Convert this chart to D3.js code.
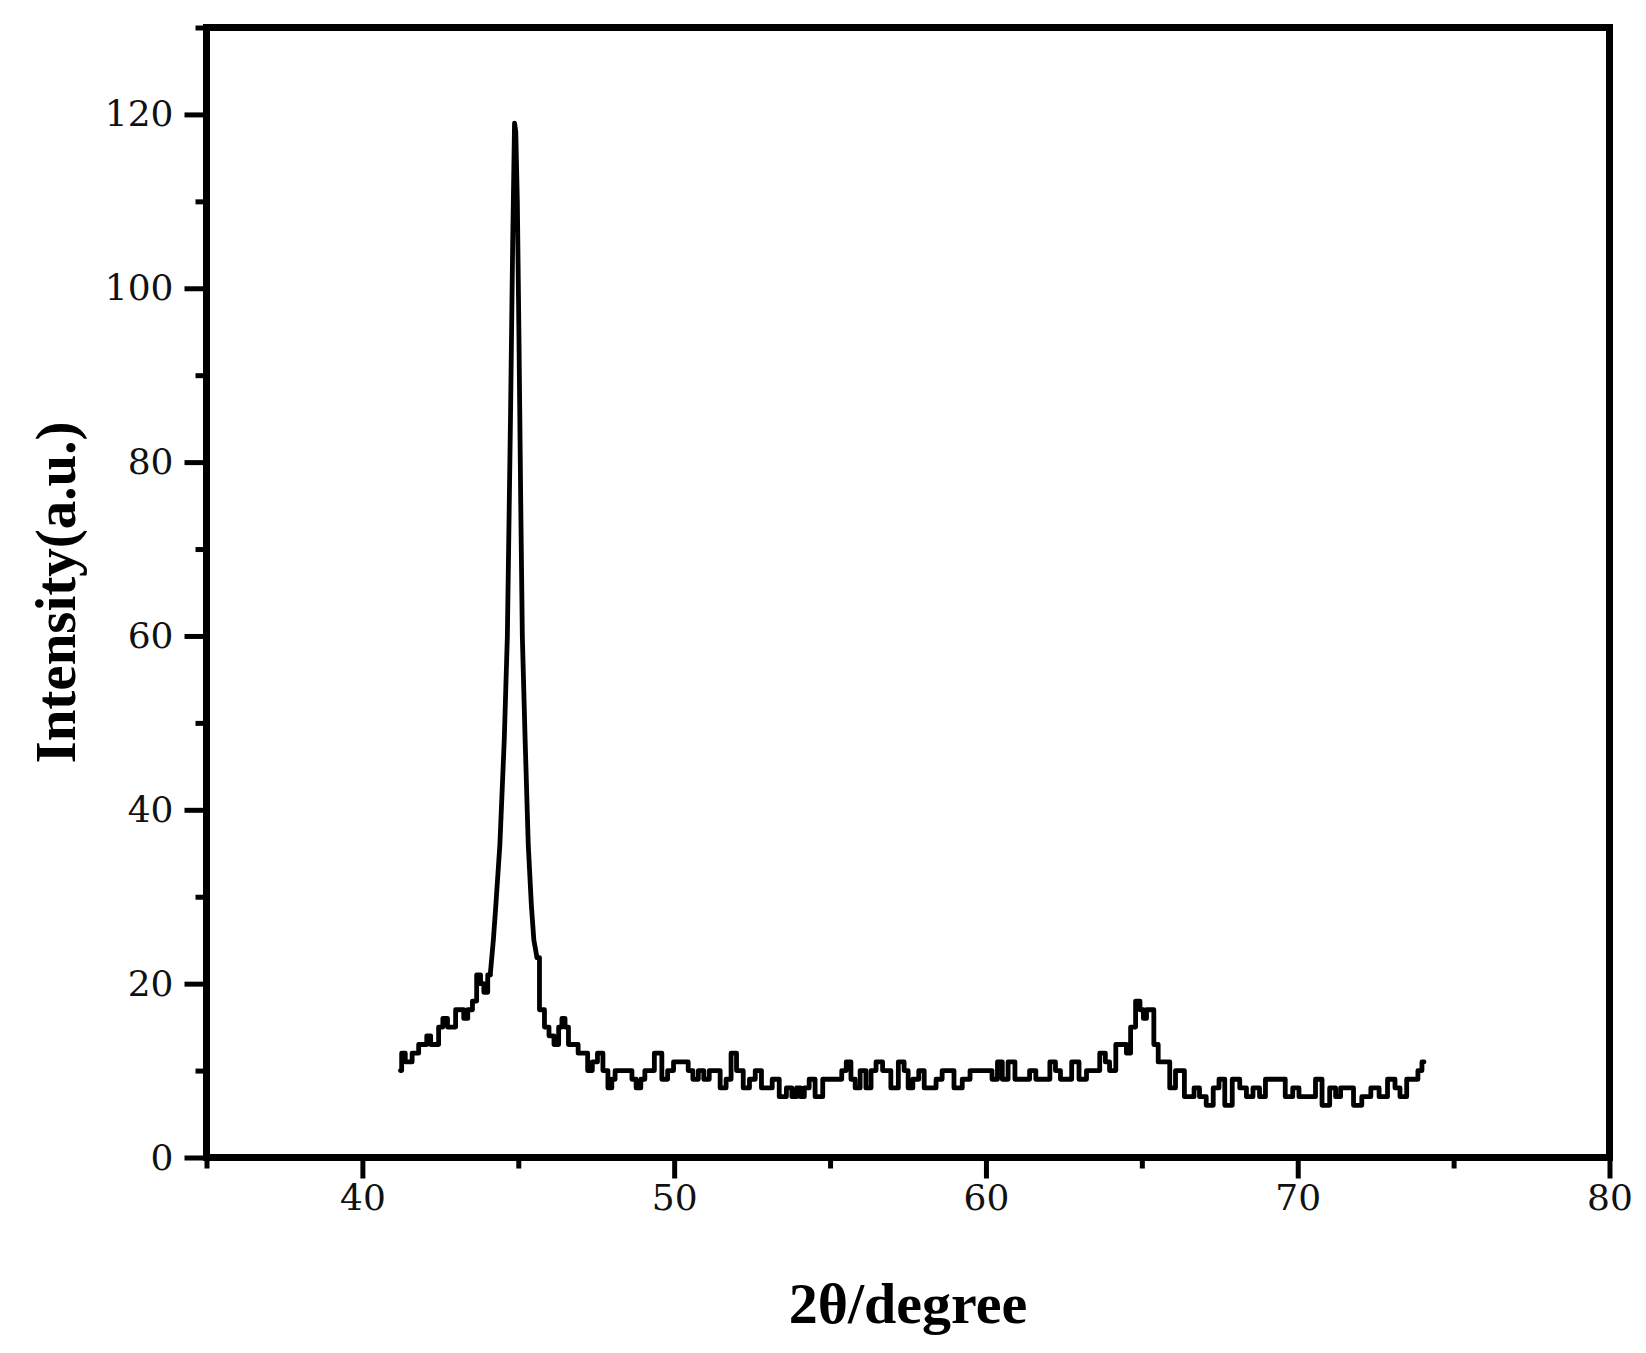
<!DOCTYPE html>
<html>
<head>
<meta charset="utf-8">
<script src="https://cdn.jsdelivr.net/npm/d3@7/dist/d3.min.js"></script>
<style>
  html, body { margin: 0; padding: 0; background: #fff; }
  svg { display: block; }
</style>
</head>
<body>
<svg id="chart" width="1646" height="1353"></svg>
<script>
// ---- data ----
const twoTheta = [
  41.22,41.30,41.45,41.54,41.65,41.75,41.86,42.00,42.13,42.25,42.39,42.50,42.66,42.80,42.93,43.05,43.20,43.30,43.46,43.60,
  43.73,43.85,43.94,44.10,44.20,44.28,44.41,44.55,44.65,44.75,44.82,44.88,44.92,44.97,45.02,45.08,45.13,45.22,45.32,45.42,
  45.50,45.60,45.76,45.92,46.05,46.24,46.35,46.45,46.55,46.67,46.80,47.04,47.15,47.30,47.45,47.63,47.80,47.95,48.05,48.16,
  48.35,48.59,48.70,48.86,49.00,49.12,49.23,49.50,49.71,49.87,50.09,50.25,50.40,50.50,50.70,50.85,51.05,51.20,51.37,51.58,
  51.75,51.90,52.10,52.33,52.50,52.70,52.90,53.05,53.24,53.50,53.70,53.85,54.00,54.10,54.25,54.41,54.63,54.90,55.10,55.30,
  55.45,55.59,55.75,55.86,56.07,56.23,56.40,56.55,56.82,57.08,57.30,57.45,57.56,57.75,57.94,58.10,58.30,58.50,58.69,58.85,
  59.10,59.38,59.60,59.85,60.10,60.29,60.45,60.60,60.82,61.04,61.30,61.50,61.70,61.94,62.16,62.30,62.48,62.65,62.85,63.12,
  63.33,63.54,63.76,63.90,64.03,64.30,64.45,64.56,64.72,64.88,65.00,65.10,65.20,65.30,65.47,65.58,65.79,66.00,66.16,66.30,
  66.43,66.60,66.75,66.95,67.18,67.40,67.55,67.77,68.03,68.25,68.46,68.67,68.88,69.05,69.31,69.50,69.70,69.98,70.10,70.30,
  70.50,70.64,70.92,71.13,71.30,71.45,71.66,71.92,72.19,72.50,72.72,73.04,73.20,73.36,73.63,73.79,73.92,74.05
];
const intensity = [
  10,12,11,11,12,12,13,13,14,13,13,15,16,15,15,17,17,16,17,18,
  21,20,19,21,25,29,36,48,60,85,105,119,118,110,95,75,60,48,36,29,
  25,23,17,15,14,13,15,16,15,13,13,12,12,10,11,12,10,8,9,10,
  10,10,9,8,9,10,10,12,9,10,11,11,11,10,9,10,9,10,10,8,
  9,12,10,8,9,10,8,8,9,7,8,7,8,7,8,9,7,9,9,9,
  10,11,9,8,10,8,10,11,10,8,11,10,8,9,10,8,8,9,10,10,
  8,9,10,10,10,9,11,9,11,9,9,10,9,9,11,10,9,9,11,9,
  10,10,12,11,10,13,13,12,15,18,17,16,17,17,13,11,11,8,10,10,
  7,7,8,7,6,8,9,6,9,8,7,8,7,9,9,9,7,8,7,7,
  7,9,6,8,7,8,8,6,7,8,7,9,8,7,9,9,10,11
];
// 2θ range of the main reflection (drawn as a smooth line, the rest as counting steps)
const peakRange = [44.10, 45.60];
const xMajorTicks = [40, 50, 60, 70, 80];
const xMinorTicks = [35, 45, 55, 65, 75];
const yMajorTicks = [0, 20, 40, 60, 80, 100, 120];
const yMinorTicks = [10, 30, 50, 70, 90, 110, 130];
const xDomain = [35, 80];
const yDomain = [0, 130];
const xTitle = "2θ/degree";
const yTitle = "Intensity(a.u.)";

// ---- layout ----
const L = 206.5, R = 1609.5, T = 27.5, B = 1157.5;
const svg = d3.select("#chart");
const x = d3.scaleLinear().domain(xDomain).range([L, R]);
const y = d3.scaleLinear().domain(yDomain).range([B, T]);

const tickFont = "'DejaVu Serif', serif";
const titleFont = "'Liberation Serif', 'Times New Roman', serif";
const axisW = 7;

// data line
const pts = twoTheta.map((d, i) => [d, intensity[i]]);
const before = pts.filter(d => d[0] <= peakRange[0]);
const peak = pts.filter(d => d[0] >= peakRange[0] && d[0] <= peakRange[1]);
const after = pts.filter(d => d[0] >= peakRange[1]);
const stepLine = d3.line().curve(d3.curveStep).x(d => x(d[0])).y(d => y(d[1]));
const smoothLine = d3.line().x(d => x(d[0])).y(d => y(d[1]));
[[before, stepLine], [peak, smoothLine], [after, stepLine]].forEach(([seg, gen]) => {
  svg.append("path")
    .datum(seg)
    .attr("fill", "none")
    .attr("stroke", "#000")
    .attr("stroke-width", 4.8)
    .attr("stroke-linejoin", "round")
    .attr("stroke-linecap", "round")
    .attr("d", gen);
});

// minor ticks
svg.append("g").attr("transform", `translate(0,${B})`)
  .call(d3.axisBottom(x).tickValues(xMinorTicks).tickSize(11).tickSizeOuter(0).tickFormat(""))
  .call(g => g.select(".domain").remove())
  .call(g => g.selectAll("line").attr("stroke-width", 5));
svg.append("g").attr("transform", `translate(${L},0)`)
  .call(d3.axisLeft(y).tickValues(yMinorTicks).tickSize(11).tickSizeOuter(0).tickFormat(""))
  .call(g => g.select(".domain").remove())
  .call(g => g.selectAll("line").attr("stroke-width", 5));

// major ticks + labels
const xAx = svg.append("g").attr("transform", `translate(0,${B})`)
  .call(d3.axisBottom(x).tickValues(xMajorTicks).tickSize(21).tickSizeOuter(0).tickPadding(6).tickFormat(d3.format("d")))
  .call(g => g.select(".domain").remove());
xAx.selectAll("line").attr("stroke-width", 5);
xAx.selectAll("text").attr("font-family", tickFont).attr("font-size", 36).attr("fill", "#111");

const yAx = svg.append("g").attr("transform", `translate(${L},0)`)
  .call(d3.axisLeft(y).tickValues(yMajorTicks).tickSize(22).tickSizeOuter(0).tickPadding(11).tickFormat(d3.format("d")))
  .call(g => g.select(".domain").remove());
yAx.selectAll("line").attr("stroke-width", 5);
yAx.selectAll("text").attr("font-family", tickFont).attr("font-size", 36).attr("fill", "#111");

// frame
svg.append("rect")
  .attr("x", L).attr("y", T).attr("width", R - L).attr("height", B - T)
  .attr("fill", "none").attr("stroke", "#000").attr("stroke-width", axisW);

// titles
svg.append("text")
  .attr("x", (L + R) / 2).attr("y", 1323)
  .attr("text-anchor", "middle")
  .attr("font-family", titleFont).attr("font-weight", "bold").attr("font-size", 58)
  .text(xTitle);
svg.append("text")
  .attr("transform", `translate(75,${(T + B) / 2}) rotate(-90)`)
  .attr("text-anchor", "middle")
  .attr("font-family", titleFont).attr("font-weight", "bold").attr("font-size", 57)
  .text(yTitle);
</script>
</body>
</html>
